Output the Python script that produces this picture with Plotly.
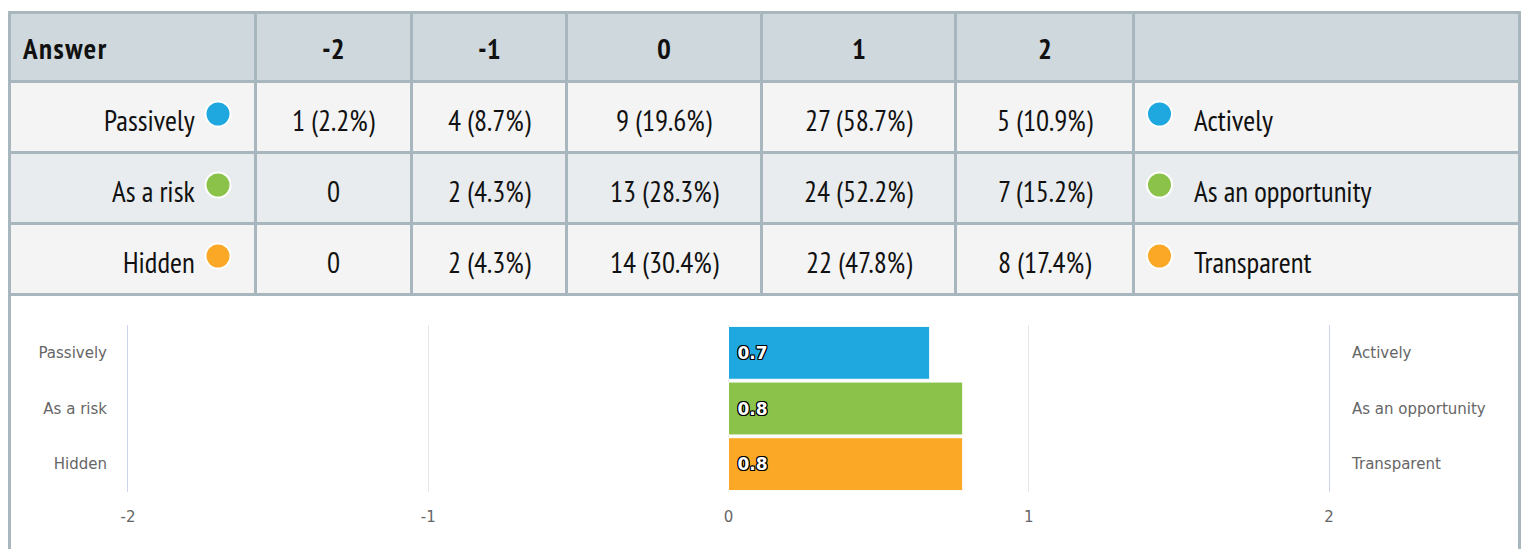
import plotly.graph_objects as go

# ---------------- data ----------------
row_labels = ["Passively", "As a risk", "Hidden"]
right_labels = ["Actively", "As an opportunity", "Transparent"]
scale_labels = ["-2", "-1", "0", "1", "2"]
counts_passively = [1, 4, 9, 27, 5]
pct_passively = [2.2, 8.7, 19.6, 58.7, 10.9]
counts_risk = [0, 2, 13, 24, 7]
pct_risk = [0.0, 4.3, 28.3, 52.2, 15.2]
counts_hidden = [0, 2, 14, 22, 8]
pct_hidden = [0.0, 4.3, 30.4, 47.8, 17.4]
mean_scores = [0.67, 0.78, 0.78]
colors = ["#1fa8e0", "#8bc34a", "#fba826"]

W, H = 1522, 549
def px(x):
    return x / W
def py(y):
    return 1 - y / H

TABLE_FONT = "PT Sans Narrow, Liberation Sans Narrow, DejaVu Sans Condensed, Arial Narrow, sans-serif"
CHART_FONT = "DejaVu Sans, Verdana, sans-serif"
LINE = "#a8b7bd"
TSIZE = 29

col_x = [9.5, 255.5, 411.5, 566.5, 761.5, 955.5, 1133.5, 1519.5]
row_y = [12.5, 81.5, 152.5, 223.5, 294.5]
row_fill = ["#cfd8dc", "#f4f4f4", "#e8ecee", "#f4f4f4"]

fig = go.Figure()

# ---------------- bar chart ----------------
fig.add_trace(go.Bar(
    y=row_labels, x=mean_scores, orientation="h",
    marker=dict(color=colors, line=dict(color="white", width=1)),
    texttemplate=" %{x:.1f}", textposition="inside", insidetextanchor="start",
    textangle=0, constraintext="none",
    textfont=dict(family="DejaVu Sans, Arial, sans-serif", size=17, color="white",
                  weight="bold",
                  shadow="1px 1px 0 #000, -1px -1px 0 #000, 1px -1px 0 #000, -1px 1px 0 #000, 0 1px 0 #000, 0 -1px 0 #000, 1px 0 0 #000, -1px 0 0 #000"),
    hoverinfo="skip", showlegend=False, xaxis="x", yaxis="y",
))
fig.add_trace(go.Scatter(
    y=right_labels, x=[0, 0, 0], mode="markers", marker=dict(opacity=0),
    hoverinfo="skip", showlegend=False, xaxis="x", yaxis="y2",
))

fig.update_layout(
    width=W, height=H, autosize=False,
    margin=dict(l=0, r=0, t=0, b=0, pad=0, autoexpand=False),
    paper_bgcolor="white", plot_bgcolor="white",
    bargap=0.05,
    xaxis=dict(domain=[px(128), px(1329)], range=[-2, 2], tickvals=[-2, -1, 0, 1, 2],
               ticktext=scale_labels, showgrid=True, gridcolor="#e6e6e6", gridwidth=1,
               zeroline=True, zerolinecolor="#e6e6e6", zerolinewidth=1, showline=False,
               ticks="", ticklabelstandoff=14, automargin=False,
               tickfont=dict(family=CHART_FONT, size=15, color="#666666"), fixedrange=True),
    yaxis=dict(domain=[py(492), py(325)], type="category", categoryarray=row_labels,
               range=[2.5, -0.5], showgrid=False, showline=True, linecolor="#ccd6eb",
               linewidth=1, ticks="", ticklabelstandoff=17, automargin=False,
               tickfont=dict(family=CHART_FONT, size=15, color="#666666"), fixedrange=True),
    yaxis2=dict(domain=[py(492), py(325)], type="category", categoryarray=right_labels,
                range=[2.5, -0.5], overlaying="y", side="right", anchor="x",
                showgrid=False, showline=True, linecolor="#ccd6eb", linewidth=1,
                ticks="", ticklabelstandoff=19, automargin=False,
                tickfont=dict(family=CHART_FONT, size=15, color="#666666"), fixedrange=True),
)

# ---------------- table (shapes + annotations) ----------------
shapes = []
annotations = []

for i, fill in enumerate(row_fill):
    shapes.append(dict(type="rect", xref="paper", yref="paper", layer="below",
                       x0=px(col_x[0]), x1=px(col_x[-1]), y0=py(row_y[i + 1]), y1=py(row_y[i]),
                       fillcolor=fill, line=dict(width=0)))
for y in row_y:
    shapes.append(dict(type="line", xref="paper", yref="paper",
                       x0=px(col_x[0] - 1.5), x1=px(col_x[-1] + 1.5), y0=py(y), y1=py(y),
                       line=dict(color=LINE, width=3)))
for x in col_x[1:-1]:
    shapes.append(dict(type="line", xref="paper", yref="paper",
                       x0=px(x), x1=px(x), y0=py(row_y[-1]), y1=py(row_y[0]),
                       line=dict(color=LINE, width=3)))
for x in (col_x[0], col_x[-1]):
    shapes.append(dict(type="line", xref="paper", yref="paper",
                       x0=px(x), x1=px(x), y0=py(H + 2), y1=py(row_y[0]),
                       line=dict(color=LINE, width=3)))

tfont = dict(family=TABLE_FONT, size=TSIZE, color="#111")
annotations.append(dict(text="<span style='letter-spacing:1.5px'><b>Answer</b></span>",
                        xref="paper", yref="paper",
                        x=px(20), y=py(48), xanchor="left", yanchor="middle", showarrow=False,
                        font=tfont))
for j, lab in enumerate(scale_labels):
    cx = (col_x[j + 1] + col_x[j + 2]) / 2
    annotations.append(dict(text="<b>" + lab + "</b>", xref="paper", yref="paper",
                            x=px(cx), y=py(48), xanchor="center", yanchor="middle",
                            showarrow=False, font=tfont))

rows_counts = [counts_passively, counts_risk, counts_hidden]
rows_pct = [pct_passively, pct_risk, pct_hidden]
for i in range(3):
    yc = (row_y[i + 1] + row_y[i + 2]) / 2 + 3
    annotations.append(dict(text=row_labels[i], xref="paper", yref="paper",
                            x=px(197), y=py(yc), xanchor="right", yanchor="middle",
                            showarrow=False, font=tfont))
    for j in range(5):
        c = rows_counts[i][j]
        t = "0" if c == 0 else f"{c} ({rows_pct[i][j]:.1f}%)"
        cx = (col_x[j + 1] + col_x[j + 2]) / 2
        annotations.append(dict(text=t, xref="paper", yref="paper",
                                x=px(cx), y=py(yc), xanchor="center", yanchor="middle",
                                showarrow=False, font=tfont))
    annotations.append(dict(text=right_labels[i], xref="paper", yref="paper",
                            x=px(1192), y=py(yc), xanchor="left", yanchor="middle",
                            showarrow=False, font=tfont))
    dy = yc - 6
    for dx in (218, 1159.5):
        shapes.append(dict(type="circle", xref="paper", yref="paper",
                           xsizemode="pixel", ysizemode="pixel",
                           xanchor=px(dx), yanchor=py(dy), x0=-12.5, x1=12.5, y0=-12.5, y1=12.5,
                           fillcolor=colors[i], line=dict(color="white", width=2)))

fig.update_layout(shapes=shapes, annotations=annotations)

fig.write_html("out.html", config={"displayModeBar": False, "responsive": False},
               post_script="document.body.style.margin='0';document.body.style.overflow='hidden';")
